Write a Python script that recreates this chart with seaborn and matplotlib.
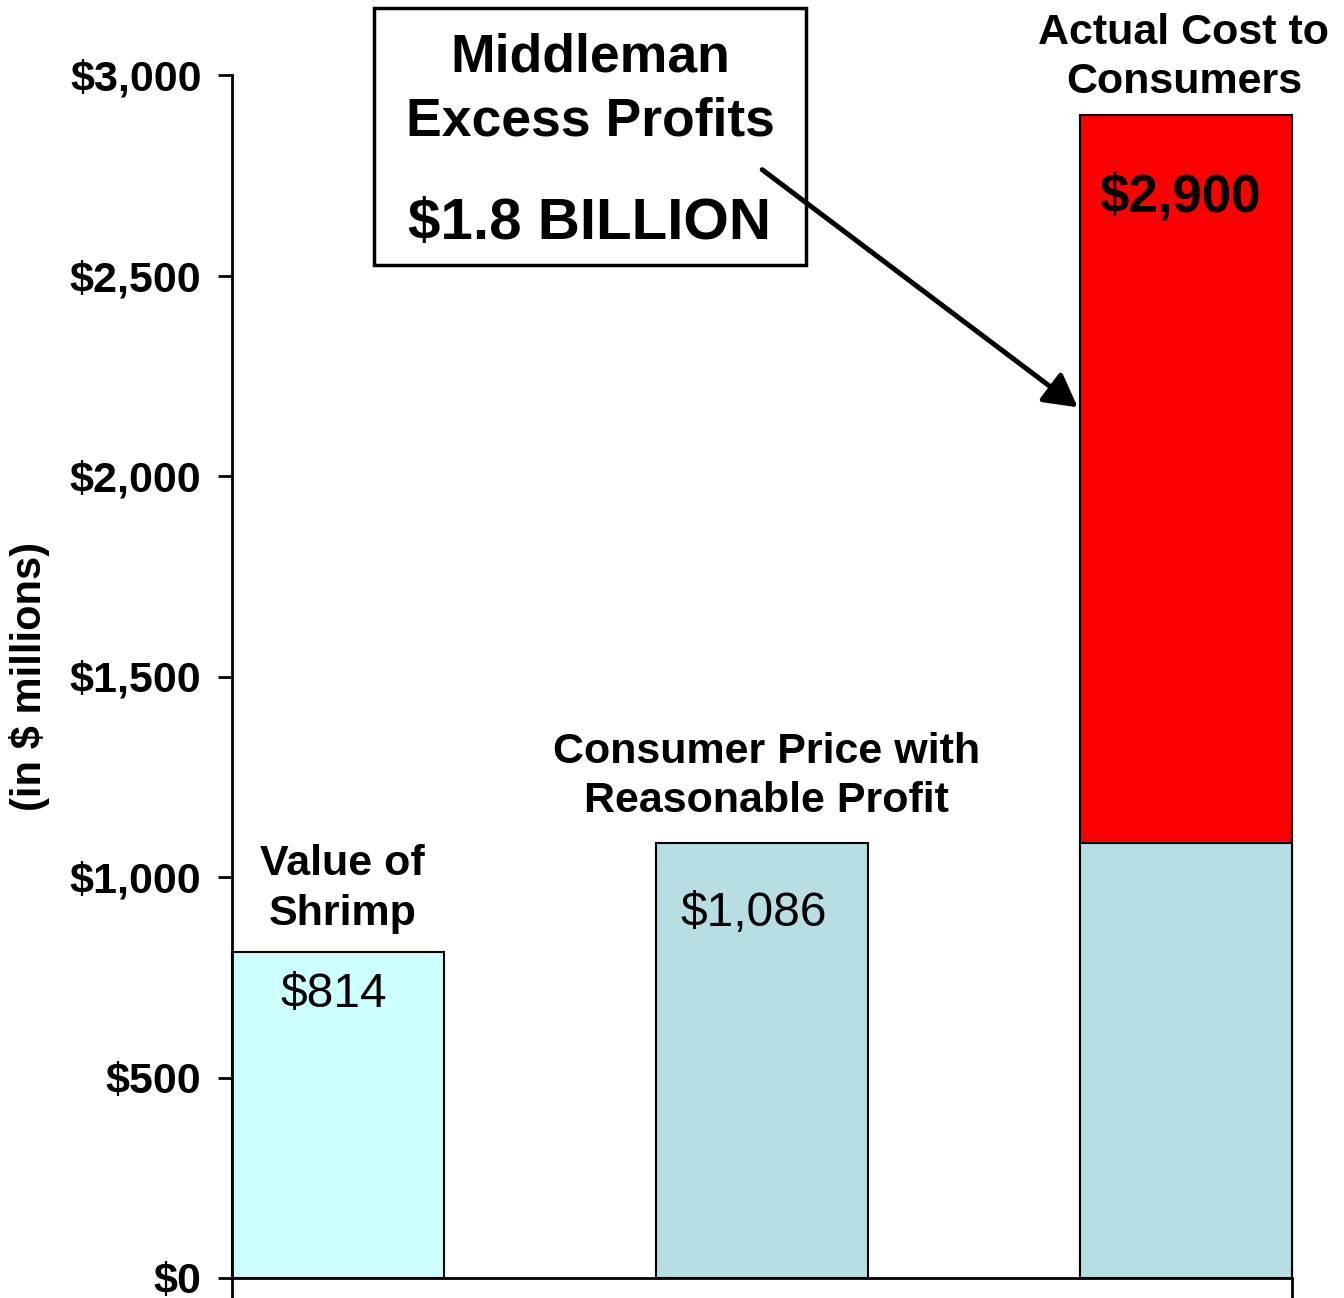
import pandas as pd
import matplotlib.pyplot as plt
import seaborn as sns
from matplotlib.patches import Rectangle, FancyArrowPatch

categories = ['Value of Shrimp', 'Consumer Price with Reasonable Profit', 'Actual Cost to Consumers']
base_values = [814, 1086, 1086]
total_values = [814, 1086, 2900]
base_colors = ['#CCFFFF', '#B7DEE2', '#B7DEE2']
value_labels = ['$814', '$1,086', '$2,900']
ytick_values = [0, 500, 1000, 1500, 2000, 2500, 3000]
ytick_labels = ['$0', '$500', '$1,000', '$1,500', '$2,000', '$2,500', '$3,000']

sns.set_style('white')
plt.rcParams['font.family'] = ['Liberation Sans', 'DejaVu Sans']
plt.rcParams['text.color'] = 'black'
plt.rcParams['axes.labelcolor'] = 'black'
plt.rcParams['xtick.color'] = 'black'
plt.rcParams['ytick.color'] = 'black'

fig = plt.figure(figsize=(13.44, 12.98), dpi=100)
ax = fig.add_axes([232 / 1344, 20 / 1298, 1060 / 1344, 1203 / 1298])

df_base = pd.DataFrame({'cat': categories, 'value': base_values})
df_top = pd.DataFrame({'cat': categories[2:], 'value': total_values[2:]})

# red excess bar first, then the base bars drawn over it
sns.barplot(data=df_top, x='cat', y='value', order=categories, color='#FF0000',
            width=0.5, edgecolor='black', linewidth=1.5, saturation=1, ax=ax)
sns.barplot(data=df_base, x='cat', y='value', order=categories, hue='cat',
            palette=base_colors, legend=False, width=0.5, edgecolor='black',
            linewidth=1.5, saturation=1, ax=ax)
for p in ax.patches:
    p.set_clip_on(False)

ax.set_xlim(-0.25, 2.25)
ax.set_ylim(0, 3000)
ax.set_yticks(ytick_values)
ax.set_yticklabels(ytick_labels, fontsize=31, fontweight='bold')
ax.set_xticks([-0.25, 2.25])
ax.set_xticklabels(['', ''])
ax.tick_params(axis='y', direction='out', length=10, width=2, pad=12, left=True)
ax.tick_params(axis='x', direction='out', length=20, width=2, bottom=True)
ax.set_xlabel('')
ax.set_ylabel('(in $ millions)', fontsize=30, fontweight='bold')
ax.yaxis.set_label_coords(-0.172, 0.5)
for side in ['top', 'right']:
    ax.spines[side].set_visible(False)
for side in ['left', 'bottom']:
    ax.spines[side].set_linewidth(2)
    ax.spines[side].set_color('black')

# value labels inside bars
ax.text(-0.01, 708, value_labels[0], ha='center', va='center', fontsize=34.5)
ax.text(1 - 0.02, 908, value_labels[1], ha='center', va='center', fontsize=34.5)
ax.text(2 - 0.015, 2695, value_labels[2], ha='center', va='center', fontsize=38,
        fontweight='bold')

# category labels above bars
ax.text(0.01, 970, 'Value of\nShrimp', ha='center', va='center', fontsize=31,
        fontweight='bold', linespacing=1.3)
ax.text(1.01, 1250, 'Consumer Price with\nReasonable Profit', ha='center',
        va='center', fontsize=31, fontweight='bold', linespacing=1.3)
ax.text(1.995, 3043, 'Actual Cost to\nConsumers', ha='center', va='center',
        fontsize=31, fontweight='bold', linespacing=1.3, clip_on=False)

# callout box
fig.patches.append(Rectangle((374 / 1344, 1 - 265 / 1298), 432 / 1344, 257 / 1298,
                             transform=fig.transFigure, fill=False,
                             edgecolor='black', linewidth=2.5))
fig.text(590 / 1344, 1 - 58 / 1298, 'Middleman', ha='center', va='center',
         fontsize=38.5, fontweight='bold')
fig.text(590 / 1344, 1 - 122 / 1298, 'Excess Profits', ha='center', va='center',
         fontsize=38.5, fontweight='bold')
fig.text(590 / 1344, 1 - 224 / 1298, '$1.8 BILLION', ha='center', va='center',
         fontsize=42, fontweight='bold')

arrow = FancyArrowPatch((760 / 1344, 1 - 168 / 1298), (1080 / 1344, 1 - 409 / 1298),
                        transform=fig.transFigure,
                        arrowstyle='-|>,head_length=1.0,head_width=0.55',
                        mutation_scale=20, color='black', linewidth=3.6)
fig.patches.append(arrow)

plt.savefig('out.png', dpi=100)
